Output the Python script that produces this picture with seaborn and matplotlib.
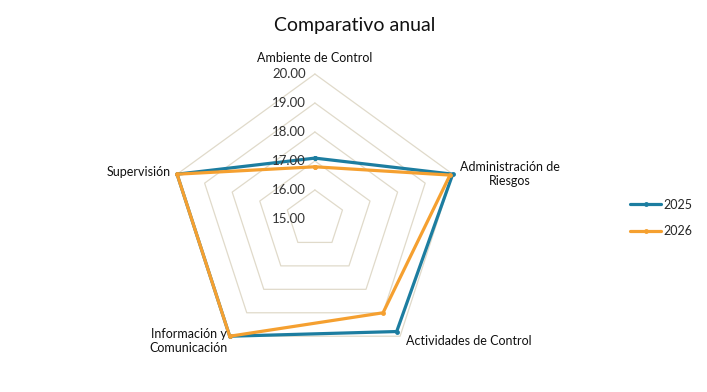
import numpy as np
import pandas as pd
import matplotlib
matplotlib.use("Agg")
import matplotlib.pyplot as plt
import seaborn as sns
from matplotlib.transforms import offset_copy
from matplotlib.lines import Line2D

categories = ["Ambiente de Control", "Administración de\nRiesgos", "Actividades de Control",
              "Información y\nComunicación", "Supervisión"]
years = ["2025", "2026"]
values_2025 = [17.1, 20.0, 19.8, 20.0, 20.0]
values_2026 = [16.8, 19.9, 19.0, 20.0, 20.0]
r_ticks = [15, 16, 17, 18, 19, 20]

sns.set_theme(style="white")
plt.rcParams['font.family'] = ['Lato', 'DejaVu Sans']

colors = {"2025": "#1C7DA0", "2026": "#F5A030"}
grid_color = "#E0DACA"

fig = plt.figure(figsize=(7.07, 3.92), dpi=100)
ax = fig.add_axes([0.2404, 0.0714, 0.410, 0.740], projection='polar')
ax.set_theta_offset(np.pi / 2)
ax.set_theta_direction(-1)

n = len(categories)
angles = list(np.linspace(0, 2 * np.pi, n, endpoint=False))
closed = angles + [2 * np.pi]

rows = []
for y, vals in zip(years, [values_2025, values_2026]):
    for a, v in zip(closed, vals + [vals[0]]):
        rows.append(dict(year=y, theta=a, value=v))
df = pd.DataFrame(rows)

# pentagon grid
for r in r_ticks[1:]:
    ax.plot(closed, [r] * len(closed), color=grid_color, lw=0.9, zorder=0, clip_on=False)

sns.lineplot(data=df, x="theta", y="value", hue="year", palette=colors, ax=ax,
             sort=False, estimator=None, lw=2.3, marker="o", markersize=3.5,
             markeredgewidth=0, legend=False, clip_on=False)

ax.set_ylim(15, 20)
ax.grid(False)
ax.spines['polar'].set_visible(False)
ax.set_xticks([])
ax.set_yticks([])
ax.set_xlabel("")
ax.set_ylabel("")

# radial labels
tr = offset_copy(ax.transData, fig=fig, x=-9, y=0, units='dots')
for r in r_ticks:
    ax.text(0, r, f"{r:.2f}", transform=tr, ha='right', va='center', fontsize=9.5, color="#333333")

# category labels
lab_specs = [
    (0, 0, 16, 'center', 'center'),
    (1, 7, 0, 'left', 'center'),
    (2, 6, -5, 'left', 'center'),
    (3, -2, -5, 'right', 'center'),
    (4, -6, 2, 'right', 'center'),
]
for i, dx, dy, ha, va in lab_specs:
    t = offset_copy(ax.transData, fig=fig, x=dx, y=dy, units='dots')
    ax.text(angles[i], 20, categories[i], transform=t, ha=ha, va=va, fontsize=9,
            color="#111111", multialignment='center')

fig.text(0.501, 0.936, "Comparativo anual", ha='center', va='center', fontsize=14, color="#111111")

handles = [Line2D([0], [0], color=colors[y], lw=2.3, marker='o', markersize=3.5,
                  markeredgewidth=0) for y in years]
fig.legend(handles, years, loc='center left', bbox_to_anchor=(0.875, 0.444), frameon=False,
           fontsize=9, handlelength=2.5, labelspacing=1.15, handletextpad=0.2)

fig.savefig("out.png", dpi=100, facecolor="white")
